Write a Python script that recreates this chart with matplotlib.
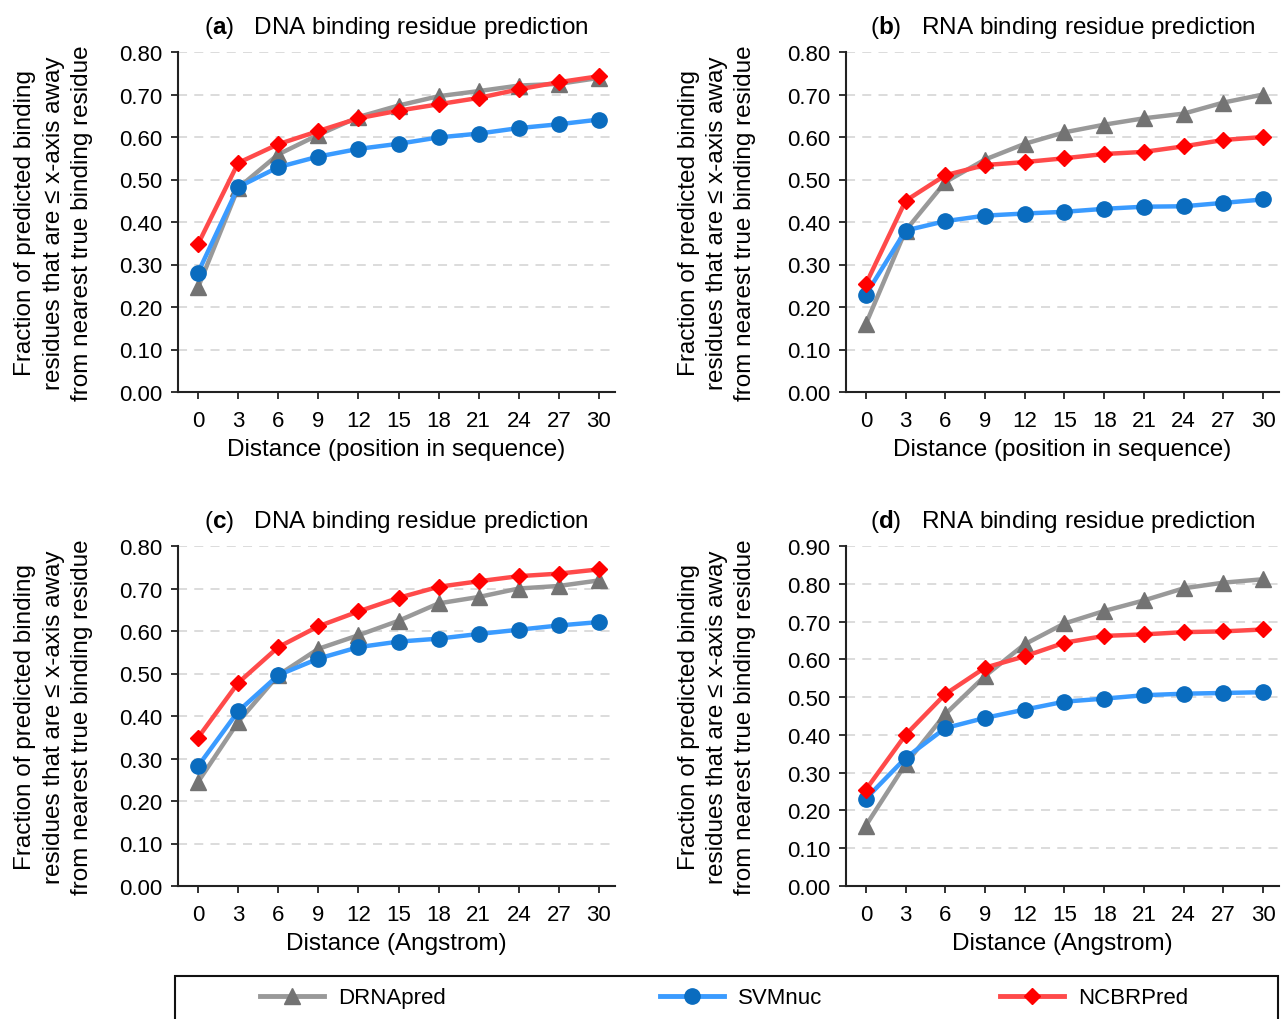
import matplotlib
matplotlib.use('Agg')
import matplotlib.pyplot as plt
from matplotlib.patches import Rectangle
from matplotlib.lines import Line2D
from matplotlib.ticker import FormatStrFormatter

plt.rcParams['font.family'] = ['Liberation Sans', 'DejaVu Sans']
plt.rcParams['mathtext.fontset'] = 'custom'
plt.rcParams['mathtext.bf'] = 'Liberation Sans:bold'
plt.rcParams['mathtext.rm'] = 'Liberation Sans'

# distances on x axis
distances = [0, 3, 6, 9, 12, 15, 18, 21, 24, 27, 30]

# (a) DNA, position in sequence
a_drnapred = [0.246, 0.480, 0.559, 0.605, 0.647, 0.674, 0.696, 0.708, 0.721, 0.725, 0.739]
a_svmnuc = [0.281, 0.482, 0.529, 0.554, 0.572, 0.584, 0.599, 0.608, 0.621, 0.630, 0.641]
a_ncbrpred = [0.348, 0.539, 0.583, 0.614, 0.644, 0.662, 0.677, 0.692, 0.712, 0.729, 0.743]

# (b) RNA, position in sequence
b_drnapred = [0.160, 0.380, 0.494, 0.547, 0.584, 0.611, 0.629, 0.644, 0.655, 0.681, 0.700]
b_svmnuc = [0.229, 0.380, 0.402, 0.415, 0.420, 0.424, 0.431, 0.436, 0.437, 0.445, 0.453]
b_ncbrpred = [0.254, 0.450, 0.510, 0.534, 0.541, 0.550, 0.560, 0.565, 0.578, 0.593, 0.600]

# (c) DNA, Angstrom
c_drnapred = [0.245, 0.386, 0.496, 0.558, 0.590, 0.624, 0.665, 0.680, 0.700, 0.706, 0.719]
c_svmnuc = [0.282, 0.411, 0.496, 0.535, 0.562, 0.575, 0.582, 0.593, 0.603, 0.613, 0.621]
c_ncbrpred = [0.349, 0.478, 0.562, 0.611, 0.646, 0.678, 0.704, 0.717, 0.729, 0.735, 0.745]

# (d) RNA, Angstrom
d_drnapred = [0.160, 0.323, 0.455, 0.556, 0.640, 0.695, 0.728, 0.756, 0.788, 0.803, 0.812]
d_svmnuc = [0.231, 0.339, 0.418, 0.445, 0.467, 0.488, 0.496, 0.505, 0.509, 0.511, 0.513]
d_ncbrpred = [0.255, 0.400, 0.508, 0.578, 0.608, 0.644, 0.662, 0.666, 0.672, 0.674, 0.679]

metodos = ['DRNApred', 'SVMnuc', 'NCBRPred']
estilos = {
    'DRNApred': dict(color='#999999', marker='^', markerfacecolor='#737373',
                     markeredgecolor='#737373', markersize=11),
    'SVMnuc': dict(color='#3a9bff', marker='o', markerfacecolor='#0a6cbf',
                   markeredgecolor='#0a6cbf', markersize=11),
    'NCBRPred': dict(color='#ff4a4a', marker='D', markerfacecolor='#ff0000',
                     markeredgecolor='#ff0000', markersize=8),
}

paneles = [
    ('a', 'DNA binding residue prediction', 'Distance (position in sequence)',
     [a_drnapred, a_svmnuc, a_ncbrpred], 0.8, (178, 53, 437, 340), -0.284),
    ('b', 'RNA binding residue prediction', 'Distance (position in sequence)',
     [b_drnapred, b_svmnuc, b_ncbrpred], 0.8, (846, 53, 433, 340), -0.298),
    ('c', 'DNA binding residue prediction', 'Distance (Angstrom)',
     [c_drnapred, c_svmnuc, c_ncbrpred], 0.8, (178, 547, 437, 340), -0.284),
    ('d', 'RNA binding residue prediction', 'Distance (Angstrom)',
     [d_drnapred, d_svmnuc, d_ncbrpred], 0.9, (846, 547, 433, 340), -0.298),
]

W, H = 1282, 1020
fig = plt.figure(figsize=(W / 100, H / 100), dpi=100)

ylabel = ('Fraction of predicted binding\nresidues that are \u2264 x-axis away\n'
          'from nearest true binding residue')

for letra, titulo, xlabel, series, ymax, (px, py, pw, ph), lx in paneles:
    ax = fig.add_axes([px / W, 1 - (py + ph) / H, pw / W, ph / H])
    for nombre, valores in zip(metodos, series):
        ax.plot(distances, valores, linewidth=3.2, solid_capstyle='round', **estilos[nombre])

    ax.set_xlim(-1.5, 31.2)
    ax.set_ylim(0, ymax)
    ax.set_xticks(distances)
    ax.set_yticks([i / 10 for i in range(int(round(ymax * 10)) + 1)])
    ax.yaxis.set_major_formatter(FormatStrFormatter('%.2f'))
    ax.grid(axis='y', color='#d9d9d9', linestyle=(0, (5, 4)), linewidth=1.3)
    ax.set_axisbelow(True)

    for lado in ['top', 'right']:
        ax.spines[lado].set_visible(False)
    for lado in ['left', 'bottom']:
        ax.spines[lado].set_linewidth(1.5)
        ax.spines[lado].set_color('#222222')
    ax.tick_params(axis='both', direction='out', length=5, width=1.3,
                   labelsize=16, color='#222222')
    ax.tick_params(axis='x', pad=8)
    ax.tick_params(axis='y', pad=6)

    ax.set_title(r'($\mathbf{' + letra + '}$)   ' + titulo, fontsize=17.5, pad=14)
    ax.set_xlabel(xlabel, fontsize=17.5, labelpad=5)
    ax.set_ylabel(ylabel, fontsize=17.5, linespacing=1.38, va='center')
    ax.yaxis.set_label_coords(lx, 0.5)

# caja de la leyenda
caja = Rectangle((175 / W, -0.02), 1103 / W, (H - 977) / H + 0.02,
                 transform=fig.transFigure, facecolor='none',
                 edgecolor='#111111', linewidth=1.5)
fig.patches.append(caja)

# una entrada por método, cada una en su sitio
posiciones_leyenda = [260, 660, 1000]
for m, xpos in zip(metodos, posiciones_leyenda):
    h = Line2D([], [], linewidth=3.5, **estilos[m])
    fig.legend([h], [m], loc='center left', bbox_to_anchor=(xpos / W, 1 - 999 / H),
               frameon=False, fontsize=16, handlelength=2.9, handletextpad=0.6,
               borderpad=0, borderaxespad=0)

fig.savefig('out.png', dpi=100)
